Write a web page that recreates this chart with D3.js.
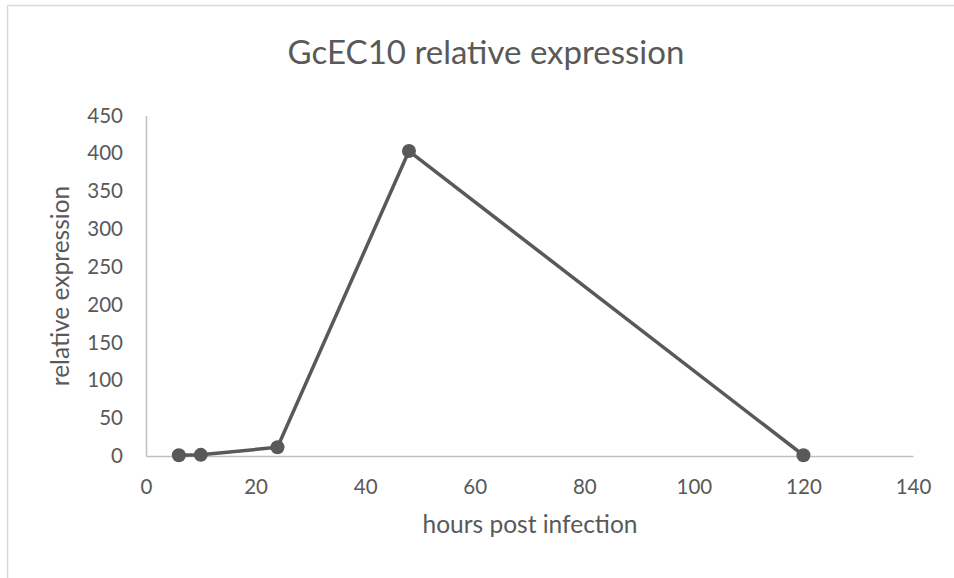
<!DOCTYPE html>
<html><head><meta charset="utf-8">
<script src="https://cdn.jsdelivr.net/npm/d3@7"></script>
<style>body{margin:0;background:#fff}svg{display:block}text{font-family:Lato,"Open Sans",sans-serif;fill:#595959}</style>
</head><body><svg id="c" width="954" height="578"></svg>
<script>
const hours = [6, 10, 24, 48, 120];
const expression = [1, 1.5, 11.5, 403, 1];
const xTicks = [0, 20, 40, 60, 80, 100, 120, 140];
const yTicks = [0, 50, 100, 150, 200, 250, 300, 350, 400, 450];
const titleText = "GcEC10 relative expression";
const xLabel = "hours post infection";
const yLabel = "relative expression";

const svg = d3.select("#c");
svg.append("rect").attr("x",7.5).attr("y",5.5).attr("width",1000).attr("height",1000)
  .attr("fill","none").attr("stroke","#d9d9d9").attr("stroke-width",1.5);

const x = d3.scaleLinear().domain([0,140]).range([146,913]);
const y = d3.scaleLinear().domain([0,450]).range([456,115.5]);

const xAxis = svg.append("g").attr("transform",`translate(0,${y(0)})`)
  .call(d3.axisBottom(x).tickValues(xTicks).tickSize(0).tickPadding(23));
xAxis.select(".domain").attr("stroke","#bfbfbf").attr("stroke-width",1.5);
xAxis.selectAll("text").attr("font-size",20.5).style("fill","#595959").attr("font-family","Lato");

const yAxis = svg.append("g").attr("transform",`translate(${x(0)},0)`)
  .call(d3.axisLeft(y).tickValues(yTicks).tickSize(0).tickPadding(23));
yAxis.select(".domain").attr("stroke","#bfbfbf").attr("stroke-width",1.5);
yAxis.selectAll("text").attr("font-size",20.5).style("fill","#595959").attr("font-family","Lato");

svg.append("text").attr("x",486).attr("y",64).attr("text-anchor","middle")
  .attr("font-size",33).text(titleText);
svg.append("text").attr("x",530).attr("y",533).attr("text-anchor","middle")
  .attr("font-size",24.5).text(xLabel);
svg.append("text").attr("transform","translate(69,286) rotate(-90)").attr("text-anchor","middle")
  .attr("font-size",24.5).text(yLabel);

const data = hours.map((h,i)=>({h, v: expression[i]}));
svg.append("path").datum(data)
  .attr("d", d3.line().x(d=>x(d.h)).y(d=>y(d.v)))
  .attr("fill","none").attr("stroke","#595959").attr("stroke-width",3.5).attr("stroke-linejoin","round");
svg.selectAll("circle.pt").data(data).join("circle").attr("class","pt")
  .attr("cx",d=>x(d.h)).attr("cy",d=>y(d.v)).attr("r",7).attr("fill","#595959");
</script></body></html>
